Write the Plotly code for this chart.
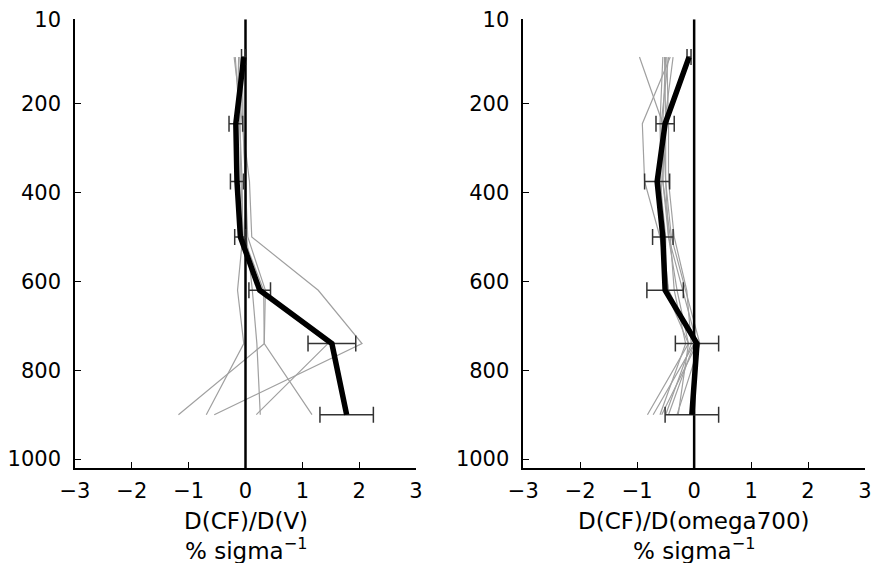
import plotly.graph_objects as go

levels = [95, 245, 375, 500, 620, 740, 900]

# Left panel: D(CF)/D(V)
left_mean = [-0.03, -0.17, -0.15, -0.09, 0.25, 1.52, 1.78]
left_err = [0.04, 0.12, 0.115, 0.10, 0.19, 0.42, 0.47]
left_models = [
    [-0.20, -0.05, 0.07, 0.11, 1.28, 2.05, -0.55],
    [-0.18, -0.10, -0.06, -0.05, -0.14, -0.03, -0.69],
    [-0.10, -0.05, 0.00, 0.04, 0.35, 0.33, -1.18],
    [-0.05, -0.10, -0.08, -0.04, 0.32, 0.33, 1.17],
    [-0.12, -0.15, -0.12, -0.06, 0.24, 1.45, 0.19],
    [-0.06, -0.04, 0.00, 0.02, 0.12, 0.20, 0.26],
]

# Right panel: D(CF)/D(omega700)
right_mean = [-0.09, -0.51, -0.65, -0.55, -0.51, 0.05, -0.04]
right_err = [0.035, 0.16, 0.22, 0.18, 0.32, 0.38, 0.47]
right_models = [
    [-0.96, -0.55, -0.50, -0.45, -0.30, -0.10, -0.82],
    [-0.42, -0.91, -0.87, -0.60, -0.45, 0.00, -0.72],
    [-0.50, -0.55, -0.55, -0.45, -0.20, 0.05, -0.57],
    [-0.52, -0.50, -0.50, -0.40, -0.15, 0.10, -0.30],
    [-0.48, -0.45, -0.45, -0.35, -0.13, -0.05, -0.50],
    [-0.45, -0.58, -0.60, -0.50, -0.50, -0.10, -0.28],
    [-0.37, -0.52, -0.55, -0.42, -0.35, -0.15, -0.60],
    [-0.55, -0.60, -0.58, -0.55, -0.45, 0.00, -0.45],
]

xticks = [-3, -2, -1, 0, 1, 2, 3]
xticktext = ["\u22123", "\u22122", "\u22121", "0", "1", "2", "3"]
yticks = [10, 200, 400, 600, 800, 1000]
yrange = [1020, 10]

titles = ["D(CF)/D(V)", "D(CF)/D(omega700)"]

W, H = 875, 563
FONT = "DejaVu Sans"

fig = go.Figure()

panels = [
    ("x", "y", left_mean, left_err, left_models),
    ("x2", "y2", right_mean, right_err, right_models),
]

for xa, ya, mean, err, models in panels:
    for m in models:
        fig.add_trace(go.Scatter(x=m, y=levels, mode="lines", xaxis=xa, yaxis=ya,
                                 line=dict(color="#a0a0a0", width=1.2), showlegend=False,
                                 hoverinfo="skip"))
    fig.add_trace(go.Scatter(x=[0, 0], y=[yrange[1], yrange[0]], mode="lines", xaxis=xa, yaxis=ya,
                             line=dict(color="black", width=2.5), showlegend=False,
                             hoverinfo="skip"))
    fig.add_trace(go.Scatter(x=mean, y=levels, mode="markers", xaxis=xa, yaxis=ya,
                             marker=dict(size=1, opacity=0),
                             error_x=dict(type="data", array=err, visible=True,
                                          color="#333333", thickness=1.5, width=8),
                             showlegend=False, hoverinfo="skip"))
    fig.add_trace(go.Scatter(x=mean, y=levels, mode="lines", xaxis=xa, yaxis=ya,
                             line=dict(color="black", width=5.5), showlegend=False))

axis_common = dict(showgrid=False, zeroline=False, showline=True, linecolor="black",
                   linewidth=1.5, ticks="inside", ticklen=6, tickcolor="black",
                   tickwidth=1.2, automargin=False,
                   tickfont=dict(family=FONT, size=21, color="black"))

ytop = 1 - 19.3 / H
ybot = 1 - 468 / H
fig.update_layout(
    width=W, height=H,
    margin=dict(l=0, r=0, t=0, b=0),
    paper_bgcolor="white", plot_bgcolor="white",
    xaxis=dict(domain=[75 / W, 416 / W], range=[-3, 3], tickvals=xticks, ticktext=xticktext,
               anchor="y", ticklabelstandoff=3, **axis_common),
    yaxis=dict(domain=[ybot, ytop], range=yrange, tickvals=yticks, anchor="x",
               ticklabelstandoff=8, **axis_common),
    xaxis2=dict(domain=[523.3 / W, 865 / W], range=[-3, 3], tickvals=xticks, ticktext=xticktext,
                anchor="y2", ticklabelstandoff=3, **axis_common),
    yaxis2=dict(domain=[ybot, ytop], range=yrange, tickvals=yticks, anchor="x2",
                ticklabelstandoff=8, **axis_common),
)

centers = [245.5 / W, 694.3 / W]
for cx, t in zip(centers, titles):
    fig.add_annotation(x=cx, y=1 - 521 / H, xref="paper", yref="paper", text=t,
                       showarrow=False, xanchor="center", yanchor="middle",
                       font=dict(family=FONT, size=23, color="black"))
    fig.add_annotation(x=cx, y=1 - 566 / H, xref="paper", yref="paper",
                       text="% sigma<sup>\u22121</sup>",
                       showarrow=False, xanchor="center", yanchor="bottom",
                       font=dict(family=FONT, size=23, color="black"))

fig.write_html("out.html")
